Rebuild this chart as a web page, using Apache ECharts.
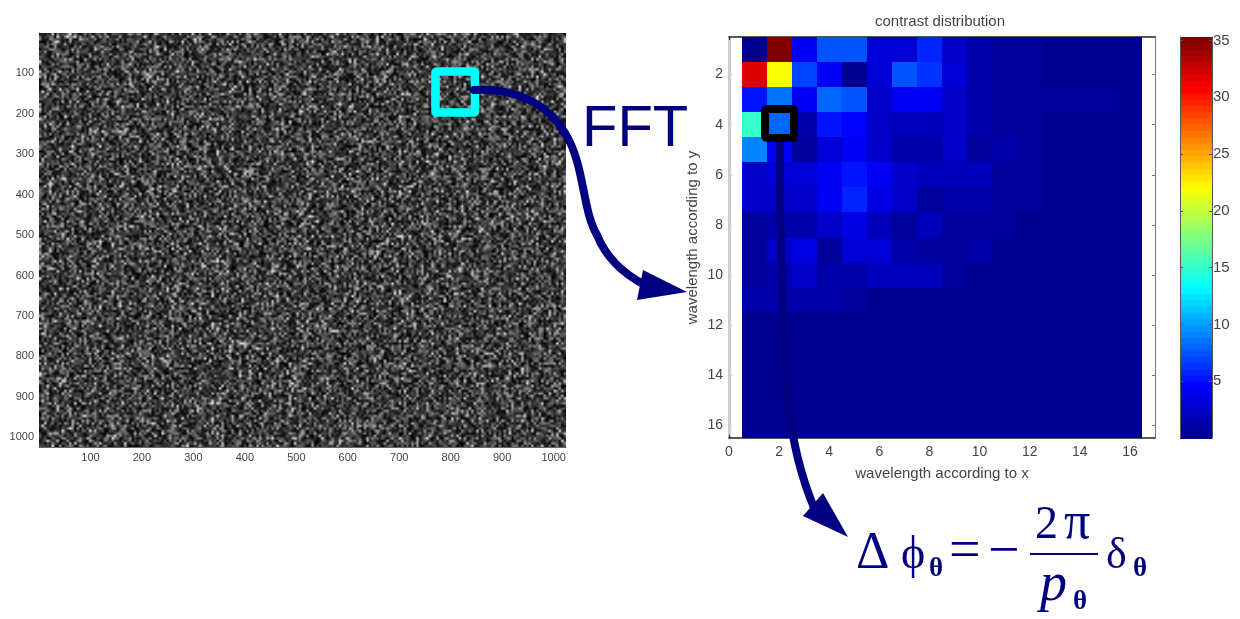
<!DOCTYPE html>
<html><head><meta charset="utf-8">
<style>html,body{margin:0;padding:0;background:#fff}#c{width:1240px;height:619px;filter:blur(0.55px)}</style>
<script src="https://cdn.jsdelivr.net/npm/echarts@6/dist/echarts.min.js"></script>
</head><body><div id="c"></div>
<script>
// ---- data ----
const imageTicks = [100,200,300,400,500,600,700,800,900,1000];
const waveXTicks = [0,2,4,6,8,10,12,14,16];
const waveYTicks = [2,4,6,8,10,12,14,16];
const colorTicks = [5,10,15,20,25,30,35];
const row1  = [.1,35.2,4.1,7.5,7.5,2.9,3.0,5.8,2.4,1.5,.9,.6,.5,.4,.3,.3];
const row2  = [31.5,21.8,7.0,3.9,.5,3.0,7.4,6.4,3.0,1.6,.8,.9,.5,.4,.3,.3];
const row3  = [5.0,8.8,3.9,8.2,7.4,2.6,4.4,4.4,2.7,1.4,1.0,1.0,1.0,1.0,.6,.3];
const row4  = [15.4,8.0,1.3,5.0,4.8,2.6,1.9,2.2,2.4,1.3,.8,.6,.5,.4,.3,.3];
const row5  = [9.3,4.4,1.0,2.9,4.3,2.3,1.6,1.6,2.3,1.0,1.4,.7,.5,.4,.3,.3];
const row6  = [2.6,3.0,2.8,4.3,5.2,3.9,2.3,1.9,2.1,2.1,1.0,.6,.4,.3,.3,.3];
const row7  = [2.5,2.4,2.4,4.3,5.8,3.8,2.5,1.0,1.6,1.6,.8,.6,.4,.3,.3,.3];
const row8  = [1.0,1.3,1.3,2.6,3.8,2.2,1.0,2.0,1.0,1.0,.6,.4,.3,.3,.3,.3];
const row9  = [.7,2.6,3.8,.7,2.9,2.9,1.3,.7,1.0,1.6,.5,.4,.3,.3,.3,.3];
const row10 = [.7,1.3,2.6,1.3,1.3,1.9,2.0,1.9,.6,.5,.4,.3,.3,.3,.3,.3];
const row11 = [1.3,1.3,1.6,1.6,.6,.5,.4,.3,.3,.3,.3,.3,.3,.3,.3,.3];
const row12 = [.3,.3,.3,.3,.3,.3,.3,.3,.3,.3,.3,.3,.3,.3,.3,.3];
const row13 = [.3,.3,.3,.3,.3,.3,.3,.3,.3,.3,.3,.3,.3,.3,.3,.3];
const row14 = [.3,.3,.3,.3,.3,.3,.3,.3,.3,.3,.3,.3,.3,.3,.3,.3];
const row15 = [.3,.3,.3,.3,.3,.3,.3,.3,.3,.3,.3,.3,.3,.3,.3,.3];
const row16 = [.3,.3,.3,.3,.3,.3,.3,.3,.3,.3,.3,.3,.3,.3,.3,.3];
const rows = [row1,row2,row3,row4,row5,row6,row7,row8,row9,row10,row11,row12,row13,row14,row15,row16];
const jet = ['#00008f','#0000ff','#0080ff','#00ffff','#80ff80','#ffff00','#ff8000','#ff0000','#800000'];

// speckle texture: hand-typed tiles of coprime sizes (a texture, not data)
const tileA = [
"3141592653589793238462643383279","5028841971693993751058209749445","9230781640628620899862803482534",
"2117067982148086513282306647093","8446095505822317253594081284811","1745028410270193852110555964462",
"2948954930381964428810975665933","4461284756482337867831652712019","0914564856692346034861045432664",
"8213393607260249141273724587006","6063155881748815209209628292540","9171536436789259036001133053054",
"8820466521384146951941511609433","0572703657595919530921861173819","3261179310511854807446237996274",
"9567351885752724891227938183011","9491298336733624406566430860213","9494639522473719070217986094370",
"2770539217176293176752384674818","4676694051320005681271452635608","2778577134275778960917363717872",
"1468440901224953430146549585371","0507922796892589235420199561121"];
const tileB = [
"2718281828459045235360287471352662497","7572470936999595749669676277240766303","5354759457138217852516642742746639193",
"2003059921817413596629043572900334295","2606949382846091277016749301523183860","8288117249630151702857948627173926543",
"1041598163427719462350864097531186204","7395028471660938254117306958240372659","6182043957721056843290715864930214778",
"4970362815504937162084591723068541926","3856207149968402317750936428195060372","9214730586612947305881640273956128407",
"5063192847730518296441072659381307468","1728394056847102935660481729503846291","6495012873350629178440296175083629514",
"8037261594472938106558192047361920785","2951748036609173825440628391750248136","7380416925581036297746159208374165029",
"4162908375520749316884037521694203758"];

function tile(t,x,y,sx,sy){ // brick-shifted lookup so columns and rows do not line up
  const h=t.length,w=t[0].length;
  return +t[(y+Math.floor(x/w)*sy)%h][(x+Math.floor(y/h)*sx)%w];
}
function speckle(){
  const w=211,h=166,cv=document.createElement('canvas');cv.width=w;cv.height=h;
  const ctx=cv.getContext('2d'),im=ctx.createImageData(w,h);
  for(let y=0;y<h;y++)for(let x=0;x<w;x++){
    const a=tile(tileA,x,y,11,7), b=tile(tileB,x,y,13,5);
    const g=Math.round(228*Math.pow((a+b)/18,2.0)),i=(y*w+x)*4;
    im.data[i]=im.data[i+1]=im.data[i+2]=g;im.data[i+3]=255;
  }
  ctx.putImageData(im,0,0);return cv;
}
const noise=speckle();

const cells=[];rows.forEach((r,j)=>r.forEach((v,i)=>cells.push([i+1,j+1,v])));

const txt='#444', font='"Liberation Sans", Arial, sans-serif', navy='#000080';
const plain=v=>String(v);
function plainAxis(o){return Object.assign({type:'value',axisLine:{show:true,onZero:false,lineStyle:{color:'#222',width:1}},
  splitLine:{show:false},axisTick:{inside:true,length:3,lineStyle:{color:'#111'}},
  axisLabel:{color:txt,fontFamily:font,fontSize:11,margin:6}},o);}
function line(color,width){return {show:true,onZero:false,lineStyle:{color,width}};}

const chart=echarts.init(document.getElementById('c'),null,{renderer:'canvas'});
// y is the text baseline
function T(text,x,y,size,family,prefix){return {type:'text',z:100,style:{text,x,y:y-0.28*size,fill:navy,
  font:(prefix?prefix+' ':'')+size+'px '+family,verticalAlign:'middle',align:'left'}};}
function curve(p){return {type:'bezierCurve',z:91,shape:{x1:p[0],y1:p[1],cpx1:p[2],cpy1:p[3],cpx2:p[4],cpy2:p[5],x2:p[6],y2:p[7]},
  style:{fill:'none',stroke:navy,lineWidth:8,lineCap:'round'}};}
const serif='"Liberation Serif", serif';
chart.setOption({
  animation:false,backgroundColor:'#fff',
  title:[{text:'contrast distribution',left:940,top:14,textAlign:'center',padding:0,
    textStyle:{fontSize:15,fontWeight:'normal',color:txt,fontFamily:font}}],
  grid:[{left:39,top:33,width:527,height:414},{left:729,top:37,width:426,height:401},{left:1180,top:37,width:32,height:401}],
  xAxis:[
    plainAxis({gridIndex:0,min:0,max:1024,axisLine:line('#666',1),
      axisTick:{inside:true,length:3,customValues:imageTicks},axisLabel:{customValues:imageTicks,formatter:plain,color:txt,fontFamily:font,fontSize:11,margin:5}}),
    plainAxis({gridIndex:1,min:0,max:17,name:'wavelength according to x',nameLocation:'middle',nameGap:28,axisLine:line('#222',1.5),
      nameTextStyle:{color:txt,fontFamily:font,fontSize:15},
      axisTick:{inside:true,length:3,customValues:waveXTicks},axisLabel:{customValues:waveXTicks,formatter:plain,color:txt,fontFamily:font,fontSize:14,margin:7}}),
    plainAxis({gridIndex:1,min:0,max:17,position:'top',axisLine:line('#222',1.5),axisTick:{inside:true,length:3,customValues:waveXTicks},axisLabel:{show:false}}),
    plainAxis({gridIndex:2,min:0,max:1,show:false})
  ],
  yAxis:[
    plainAxis({gridIndex:0,min:0,max:1024,inverse:true,axisLine:line('#666',1),
      axisTick:{inside:true,length:3,customValues:imageTicks},axisLabel:{customValues:imageTicks,formatter:plain,color:txt,fontFamily:font,fontSize:11,margin:5}}),
    plainAxis({gridIndex:1,min:.5,max:16.5,inverse:true,axisLine:line('#ccc',3),
      name:'wavelength according to y',nameLocation:'middle',nameGap:29,
      nameTextStyle:{color:txt,fontFamily:font,fontSize:15},
      axisTick:{inside:true,length:3,customValues:waveYTicks},axisLabel:{customValues:waveYTicks,formatter:plain,color:txt,fontFamily:font,fontSize:14,margin:6}}),
    plainAxis({gridIndex:1,min:.5,max:16.5,inverse:true,position:'right',axisLine:line('#777',1),
      axisTick:{inside:true,length:3,customValues:waveYTicks},axisLabel:{show:false}}),
    plainAxis({gridIndex:2,min:0,max:35.3,position:'right',z:6,axisLine:line('#555',1),
      axisTick:{inside:true,length:3,customValues:colorTicks},
      axisLabel:{customValues:colorTicks,formatter:plain,color:txt,fontFamily:font,fontSize:15,margin:1}}),
    plainAxis({gridIndex:2,min:0,max:35.3,position:'left',z:6,axisLine:line('#555',1),
      axisTick:{inside:true,length:3,customValues:colorTicks},axisLabel:{show:false}})
  ],
  visualMap:[{type:'piecewise',seriesIndex:1,dimension:2,min:0,max:35.3,splitNumber:64,
    left:1180,top:37,padding:0,itemWidth:32,itemHeight:7,itemGap:-0.73,itemSymbol:'rect',
    showLabel:false,selectedMode:false,hoverLink:false,inRange:{color:jet},textStyle:{fontSize:0},z:4}],
  series:[
    {type:'custom',xAxisIndex:0,yAxisIndex:0,silent:true,data:[[0,0,1024,1024]],encode:{x:[0,2],y:[1,3]},clip:true,
     renderItem(p,api){const a=api.coord([api.value(0),api.value(1)]),b=api.coord([api.value(2),api.value(3)]);
       return {type:'image',style:{image:noise,x:a[0],y:a[1],width:b[0]-a[0],height:b[1]-a[1]}};}},
    {type:'custom',xAxisIndex:1,yAxisIndex:1,silent:true,data:cells,encode:{x:0,y:1},
     renderItem(p,api){const x=api.value(0),y=api.value(1),a=api.coord([x-.5,y-.5]),b=api.coord([x+.5,y+.5]);
       const l=Math.round(a[0]),t=Math.round(a[1]);
       return {type:'rect',shape:{x:l,y:t,width:Math.round(b[0])-l,height:Math.round(b[1])-t},style:{fill:api.visual('color')}};}}
  ],
  graphic:{elements:[
    {type:'rect',z:90,shape:{x:435.5,y:71.5,width:39.5,height:41,r:1},style:{fill:'none',stroke:'#00ffff',lineWidth:8.5}},
    curve([474,90,510,88,545,100,565,133]),
    curve([565,133,585,165,582,210,597,235]),
    curve([597,235,605,255,620,272,645,285]),
    {type:'polygon',z:91,shape:{points:[[687,292],[643,270],[637,300]]},style:{fill:navy}},
    {type:'rect',z:92,shape:{x:765,y:109,width:29,height:29,r:2},style:{fill:'none',stroke:'#000',lineWidth:8}},
    curve([780,140,780,250,783,340,788,400]),
    curve([788,400,792,440,800,475,815,510]),
    {type:'polygon',z:91,shape:{points:[[848,537],[823,493],[803,516]]},style:{fill:navy}},
    T('FFT',582,146,58,font),
    T('Δ',856,569,52,serif),
    T('ϕ',901,569,46,serif),
    T('θ',929,577,27,serif,'bold'),
    T('=',949,569,56,serif),
    T('−',988,569,56,serif),
    {type:'rect',z:100,shape:{x:1030,y:553,width:68,height:2},style:{fill:navy}},
    T('2',1035,539,46,serif),
    T('π',1064,539,52,serif),
    T('p',1040,601,54,serif,'italic'),
    T('θ',1073,610,27,serif,'bold'),
    T('δ',1106,569,44,serif),
    T('θ',1133,577,27,serif,'bold')
  ]}
});
</script></body></html>
